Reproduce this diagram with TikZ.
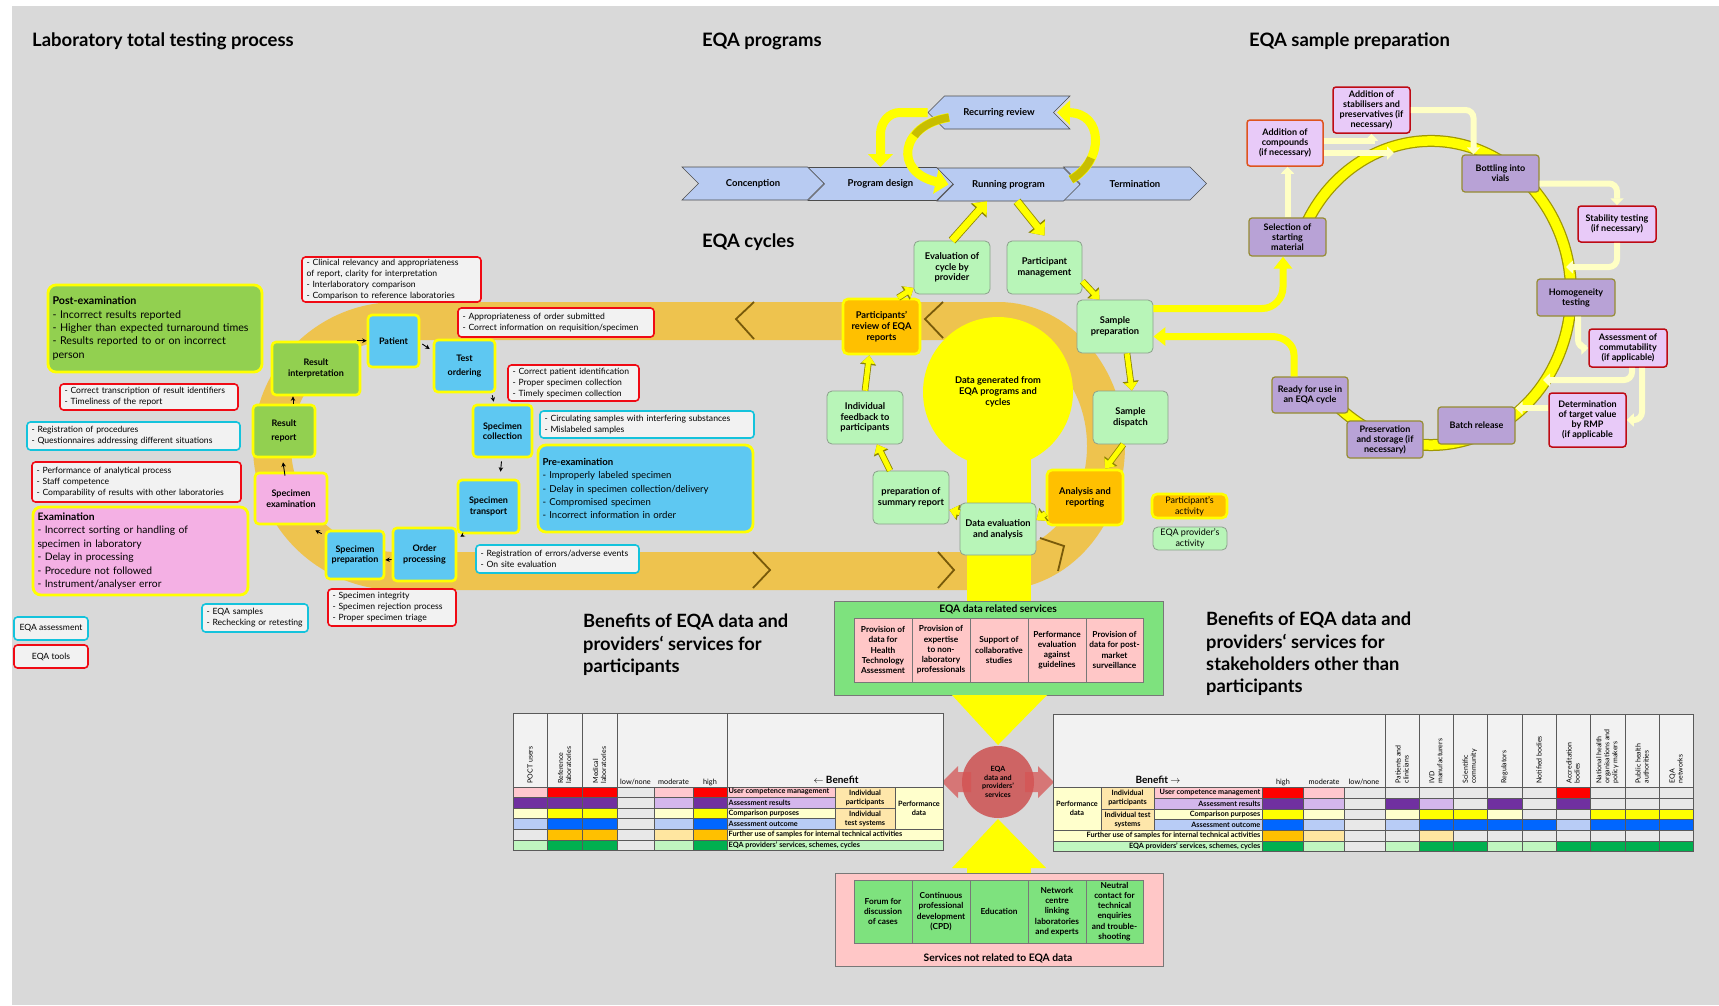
\documentclass[tikz,border=0pt]{standalone}
\usepackage{fontspec}
\setmainfont{Lato}
\usetikzlibrary{arrows.meta,shapes.symbols,shapes.geometric}
\newcommand\fsz[2]{\fontsize{#1}{#2}\selectfont}
\newcommand\Bx[7]{%
  \pgfmathsetmacro\bxw{#5-#3}\pgfmathsetmacro\bxh{#6-#4}%
  \pgfmathsetmacro\bxcx{(#3+#5)/2}\pgfmathsetmacro\bxcy{(#4+#6)/2}%
  \node[#1, minimum width=\bxw pt, minimum height=\bxh pt, inner sep=1pt, align=center] (#2) at (\bxcx,\bxcy) {#7};}
\newcommand\Lx[7]{%
  \pgfmathsetmacro\bxw{#5-#3}\pgfmathsetmacro\bxh{#6-#4}\pgfmathsetmacro\bxtw{#5-#3-9}%
  \pgfmathsetmacro\bxcx{(#3+#5)/2}\pgfmathsetmacro\bxcy{(#4+#6)/2}%
  \node[#1, minimum width=\bxw pt, minimum height=\bxh pt, inner xsep=4.5pt, inner ysep=0pt, text width=\bxtw pt, align=left] (#2) at (\bxcx,\bxcy) {#7};}
\definecolor{bggray}{RGB}{217,217,217}
\definecolor{boxlt}{RGB}{242,242,242}
\definecolor{redb}{RGB}{240,10,20}
\definecolor{cyanb}{RGB}{20,195,220}
\definecolor{labblue}{RGB}{94,200,242}
\definecolor{labgreen}{RGB}{146,208,80}
\definecolor{labpink}{RGB}{244,176,228}
\definecolor{ylw}{RGB}{255,255,0}
\definecolor{bandor}{RGB}{238,195,78}
\definecolor{chevc}{RGB}{120,90,10}
\definecolor{progblue}{RGB}{184,203,242}
\definecolor{cycgreen}{RGB}{184,245,184}
\definecolor{cycbord}{RGB}{140,160,140}
\definecolor{partor}{RGB}{255,192,0}
\definecolor{spL}{RGB}{232,202,248}
\definecolor{spM}{RGB}{184,162,214}
\definecolor{spGold}{RGB}{150,140,50}
\definecolor{spRed}{RGB}{190,10,20}
\definecolor{spOr}{RGB}{222,84,30}
\definecolor{paleY}{RGB}{255,255,196}
\definecolor{olv}{RGB}{200,190,0}
\definecolor{svG}{RGB}{126,226,126}
\definecolor{svP}{RGB}{255,199,199}
\definecolor{svBord}{RGB}{120,120,120}
\definecolor{rcirc}{RGB}{206,100,100}
\definecolor{tred}{RGB}{255,0,0}
\definecolor{tpinkL}{RGB}{255,199,206}
\definecolor{tpurple}{RGB}{112,48,160}
\definecolor{tpurpleL}{RGB}{212,182,236}
\definecolor{tyellow}{RGB}{255,255,0}
\definecolor{tyellowL}{RGB}{255,255,204}
\definecolor{tblue}{RGB}{0,102,255}
\definecolor{tblueL}{RGB}{184,204,246}
\definecolor{torange}{RGB}{255,192,0}
\definecolor{torangeL}{RGB}{255,230,160}
\definecolor{tgreen}{RGB}{0,176,80}
\definecolor{tgreenL}{RGB}{192,246,192}
\definecolor{tgray}{RGB}{232,232,232}
\definecolor{ttan}{RGB}{254,230,170}
\definecolor{hdrbg}{RGB}{242,242,242}
\definecolor{gridc}{RGB}{90,90,90}
\begin{document}
\begin{tikzpicture}[x=1pt,y=-1pt,
  labB/.style={draw=ylw, line width=2.6pt, fill=labblue, rounded corners=4pt, font=\bfseries\fsz{9}{10.5}},
  labG/.style={labB, fill=labgreen},
  labP/.style={labB, fill=labpink},
  redT/.style={draw=redb, line width=1.6pt, fill=boxlt, rounded corners=3.5pt, font=\fsz{8.6}{11}},
  cyT/.style={redT, draw=cyanb},
  bigT/.style={draw=ylw, line width=2.8pt, rounded corners=8pt, font=\fsz{10.7}{13.3}},
  cyc/.style={draw=cycbord, line width=0.8pt, fill=cycgreen, rounded corners=5pt, font=\bfseries\fsz{9.3}{10.7}},
  cycO/.style={cyc, draw=ylw, line width=2.6pt, fill=partor},
  spLb/.style={draw=spRed, line width=1.5pt, fill=spL, rounded corners=3pt, font=\bfseries\fsz{9}{10}},
  spMb/.style={spLb, draw=spGold, line width=1.2pt, fill=spM},
  chev/.style={signal, signal to=east, signal from=west, fill=progblue, draw=gray!60!black, line width=0.6pt, font=\bfseries\fsz{9.5}{11}, inner sep=0pt, minimum width=143pt, minimum height=33pt},
  svcell/.style={draw=svBord, line width=0.6pt, font=\bfseries\fsz{8.3}{10.2}},
  chv/.style={draw=chevc, line width=1.8pt},
  yar/.style={draw=ylw, line width=9pt, -{Triangle[width=24pt,length=13pt]}},
  yar2/.style={draw=ylw, line width=7pt, -{Triangle[width=18pt,length=11pt]}, preaction={draw=olv!70!black, line width=8.6pt, -{Triangle[width=20.5pt,length=12.5pt]}}},
  cyar/.style={draw=ylw, line width=5pt, -{Triangle[width=13pt,length=8pt]}, preaction={draw=olv!70!black, line width=6.6pt, -{Triangle[width=15.5pt,length=9.5pt]}}},
  lnk/.style={draw=ylw, line width=7pt, -{Triangle[width=18pt,length=12pt]}},
  side/.style={draw=paleY, line width=6pt, -{Triangle[width=13pt,length=7pt]}},
  labar/.style={-{Stealth[length=4.5pt,width=4.5pt]}, line width=0.9pt, draw=black},
  ttl/.style={font=\bfseries\fsz{18.5}{22}, inner sep=0pt, anchor=west},
  tb/.style={font=\bfseries\fsz{7.3}{8.8}, inner sep=0.5pt},
  th/.style={font=\fsz{7}{8}, inner sep=0.5pt, align=left},
  grid/.style={draw=gridc, line width=0.5pt}
]
\useasboundingbox (0,0) rectangle (1719,1005);
\fill[white] (0,0) rectangle (1719,1005);
\fill[bggray] (12,6) rectangle (1719,1005);

% ---------- orange band ----------
\draw[line width=38pt, draw=bandor] (397,321) -- (998,321) arc[start angle=90,end angle=-90,x radius=108pt,y radius=125pt] -- (397,571) arc[start angle=270,end angle=90,radius=125pt] -- cycle;
\draw[chv] (754,302) -- (736,319) -- (754,339);
\draw[chv] (943,302) -- (925,319) -- (943,338);
\draw[chv] (753,552) -- (770,570) -- (753,588);
\draw[chv] (938,552) -- (954,570) -- (938,588);
\draw[chv] (1040,538) -- (1064,546) -- (1058,571);

% ---------- titles ----------
\node[ttl] (t1) at (32,41) {Laboratory total testing process};
\node[ttl] (t2) at (702,41) {EQA programs};
\node[ttl] (t3) at (1249,41) {EQA sample preparation};
\node[ttl] (t4) at (702,242) {EQA cycles};
\node[anchor=north west, align=left, inner sep=0pt, font=\bfseries\fsz{18.3}{22.3}] (t5) at (583,614) {Benefits of EQA data and\\providers‘ services for\\participants};
\node[anchor=north west, align=left, inner sep=0pt, font=\bfseries\fsz{18.3}{22.3}] (t6) at (1206,612) {Benefits of EQA data and\\providers‘ services for\\stakeholders other than\\participants};

% ---------- laboratory total testing process ----------
\Lx{redT}{r1}{302}{257}{481}{302}{- Clinical relevancy and appropriateness\\of report, clarity for interpretation\\- Interlaboratory comparison\\- Comparison to reference laboratories}
\Lx{redT}{r2}{458}{308}{654}{337}{- Appropriateness of order submitted\\- Correct information on requisition/specimen}
\Lx{redT}{r3}{508}{365}{639}{401}{- Correct patient identification\\- Proper specimen collection\\- Timely specimen collection}
\Lx{cyT}{c1}{540}{411}{754}{438}{- Circulating samples with interfering substances\\- Mislabeled samples}
\Lx{bigT, fill=labblue, font=\fsz{9.6}{13.3}}{pre}{538}{445}{753}{532}{\textbf{Pre-examination}\\- Improperly labeled specimen\\- Delay in specimen collection/delivery\\- Compromised specimen\\- Incorrect information in order}
\Lx{cyT}{c2}{476}{545}{639}{573}{- Registration of errors/adverse events\\- On site evaluation}
\Lx{redT}{r4}{328}{589}{456}{626}{- Specimen integrity\\- Specimen rejection process\\- Proper specimen triage}
\Lx{cyT}{c3}{202}{604}{308}{632}{- EQA samples\\- Rechecking or retesting}
\Lx{bigT, fill=labgreen}{post}{48}{285}{262}{372}{\textbf{Post-examination}\\- Incorrect results reported\\- Higher than expected turnaround times\\- Results reported to or on incorrect\\person}
\Lx{redT}{r5}{60}{384}{238}{410}{- Correct transcription of result identifiers\\- Timeliness of the report}
\Lx{cyT}{c4}{27}{422}{240}{450}{- Registration of procedures\\- Questionnaires addressing different situations}
\Lx{redT}{r6}{32}{462}{241}{502}{- Performance of analytical process\\- Staff competence\\- Comparability of results with other laboratories}
\Lx{bigT, fill=labpink, font=\fsz{10.3}{13.4}}{exam}{33}{507}{248}{595}{\textbf{Examination}\\- Incorrect sorting or handling of\\specimen in laboratory\\- Delay in processing\\- Procedure not followed\\- Instrument/analyser error}
\Bx{cyT}{lgA}{14}{617}{88}{640}{EQA assessment}
\Bx{redT}{lgB}{14}{645}{88}{668}{EQA tools}

\Bx{labG}{ri}{272}{342}{360}{395}{Result\\interpretation}
\Bx{labG}{rrep}{253}{405}{315}{457}{Result\\[4pt]report}
\Bx{labB}{pat}{368}{315}{419}{367}{Patient}
\Bx{labB}{tord}{434}{340}{495}{392}{Test\\[3pt]ordering}
\Bx{labB}{sc}{473}{405}{532}{457}{Specimen\\collection}
\Bx{labB}{st}{458}{480}{519}{533}{Specimen\\transport}
\Bx{labB}{op}{393}{528}{456}{581}{Order\\processing}
\Bx{labB}{spp}{326}{531}{384}{579}{Specimen\\preparation}
\Bx{labP}{se}{255}{473}{327}{524}{Specimen\\examination}

\draw[labar] ([xshift=-4pt]ri.north east) -- (ri.north east -| pat.west);
\draw[labar] ([xshift=2pt,yshift=-3pt]pat.east) -- ([xshift=-3pt,yshift=17pt]tord.west);
\draw[labar] ([xshift=-4pt,yshift=-2pt]tord.south east) -- ([xshift=22pt,yshift=2pt]sc.north west);
\draw[labar] ([xshift=-1pt,yshift=-3pt]sc.south) -- ([xshift=12pt,yshift=7pt]st.north);
\draw[labar] ([xshift=6pt,yshift=-1pt]st.south west) -- ([xshift=3pt,yshift=-10pt]op.north east);
\draw[labar] ([yshift=-5pt]op.west) -- ([yshift=-5pt]spp.east);
\draw[labar] ([xshift=-3pt,yshift=-4pt]spp.north west) -- ([xshift=-13pt,yshift=-5pt]se.south east);
\draw[labar] ([xshift=-6pt,yshift=-4pt]se.north) -- ([xshift=-1pt,yshift=-4pt]rrep.south);
\draw[labar] ([xshift=9pt]rrep.north) -- ([xshift=-23pt]ri.south);

% ---------- EQA programs ----------
\node[chev] (tm) at (1135,183.5) {Termination};
\node[chev] (rp) at (1008.5,184.5) {Running program};
\node[chev, minimum width=145pt] (pd) at (880.5,184) {Program design};
\node[chev, minimum width=142pt] (conc) at (753,183.5) {Concenption};
\node[chev, signal to=west, signal from=east, minimum width=142pt] (rr) at (999,112.5) {Recurring review};

\draw[yar] (rr.west) -- (900,112.5) to[out=180,in=90] (880.5,134) -- (pd.north);
\draw[yar] ([xshift=-50pt,yshift=-5pt]rr.center) .. controls (900,125) and (893,172) .. ([xshift=-60pt]rp.center);
\draw[draw=olv, line width=8pt, dash pattern=on 40pt off 400pt] ([xshift=-50pt,yshift=-5pt]rr.center) .. controls (900,125) and (893,172) .. ([xshift=-60pt]rp.center);
\draw[yar] ([xshift=-64pt,yshift=4pt]tm.center) .. controls (1105,160) and (1103,113) .. ([xshift=58pt]rr.center);
\draw[draw=olv, line width=8pt, dash pattern=on 30pt off 400pt] ([xshift=-64pt,yshift=4pt]tm.center) .. controls (1105,160) and (1103,113) .. ([xshift=58pt]rr.center);

% ---------- EQA cycles ----------
\fill[ylw] (967,440) rectangle (1031,601);
\node[circle, fill=ylw, minimum size=150pt, inner sep=0pt, align=center, font=\bfseries\fsz{9.3}{11.3}] (dg) at (998,392) {Data generated from\\EQA programs and\\cycles};

\Bx{cyc}{ev}{914}{241}{990}{294}{Evaluation of\\cycle by\\provider}
\Bx{cyc}{pm}{1007}{241}{1082}{294}{Participant\\management}
\Bx{cyc}{sp}{1077}{300}{1153}{353}{Sample\\preparation}
\Bx{cyc}{sd}{1093}{391}{1168}{444}{Sample\\dispatch}
\Bx{cycO}{ar}{1047}{470}{1123}{525}{Analysis and\\reporting}
\Bx{cyc}{de}{960}{503}{1036}{555}{Data evaluation\\and analysis}
\Bx{cyc}{ps}{873}{471}{949}{524}{preparation of\\summary report}
\Bx{cyc}{fb}{827}{391}{903}{444}{Individual\\feedback to\\participants}
\Bx{cycO}{prr}{843}{299}{920}{354}{Participants'\\review of EQA\\reports}

\draw[cyar] (pm.-20) -- (sp.120);
\draw[cyar] (sp.-66) -- (sd.87);
\draw[cyar] (sd.-105) -- (ar.55);
\draw[cyar] (ar.202) -- (de.13);
\draw[cyar] (de.157) -- (ps.-18);
\draw[cyar] (ps.128) -- (fb.-66);
\draw[cyar] (fb.90) -- (prr.-113);
\draw[cyar] (prr.60) -- (ev.208);
\draw[yar2] (ev.north) -- ([xshift=-21.5pt]rp.south);
\draw[yar2] ([xshift=8.5pt]rp.south) -- ([yshift=5pt]pm.north);

\Bx{cycO, font=\fsz{9}{11}}{lg1}{1152}{494}{1227}{518}{Participant's\\activity}
\Bx{cyc, font=\fsz{9}{11}}{lg2}{1153}{527}{1227}{550}{EQA provider's\\activity}

% ---------- EQA sample preparation ----------
\draw[line width=12pt, draw=olv!80!black] (1300.3,238.5) arc[start angle=159,end angle=-140,x radius=140pt,y radius=152pt];
\draw[line width=9.5pt, draw=ylw] (1300.3,238.5) arc[start angle=159,end angle=-140,x radius=140pt,y radius=152pt];

\Bx{spLb, draw=spOr}{comp}{1247}{120}{1323}{166}{Addition of\\compounds\\(if necessary)}
\Bx{spLb}{stab}{1333}{87}{1410}{133}{Addition of\\stabilisers and\\preservatives (if\\necessary)}
\Bx{spMb}{bot}{1462}{155}{1539}{192}{Bottling into\\vials}
\Bx{spLb}{stt}{1578}{206}{1656}{242}{Stability testing\\(if necessary)}
\Bx{spMb}{hom}{1537}{279}{1615}{316}{Homogeneity\\testing}
\Bx{spLb}{comm}{1589}{329}{1667}{367}{Assessment of\\commutability\\(if applicable)}
\Bx{spLb}{det}{1549}{393}{1626}{447}{Determination\\of target value\\by RMP\\(if applicable}
\Bx{spMb}{bat}{1438}{407}{1515}{444}{Batch release}
\Bx{spMb}{pres}{1347}{421}{1423}{458}{Preservation\\and storage (if\\necessary)}
\Bx{spMb}{rdy}{1272}{377}{1348}{413}{Ready for use in\\an EQA cycle}
\Bx{spMb}{sel}{1249}{218}{1326}{256}{Selection of\\starting\\material}

\coordinate (ringA) at (1394,153);
\coordinate (ringB) at (1566,267);
\coordinate (ringC) at (1543,380);
\draw[side] (sel.north) -- (sel.north |- comp.south);
\draw[side] ([yshift=2pt]comp.east) -| (stab.south);
\draw[side] ([yshift=-10pt]comp.east) -- (ringA);
\draw[side, rounded corners=8pt] (stab.east) -| ([xshift=-27pt]bot.north);
\draw[side, rounded corners=8pt] ([yshift=-10pt]bot.east) -| (stt.north);
\draw[side, rounded corners=8pt] (stt.south) |- (ringB);
\draw[side, rounded corners=8pt] ([xshift=2pt]hom.south) |- (comm.west);
\draw[side, rounded corners=8pt] ([xshift=4pt]comm.south) |- (ringC);
\draw[side, rounded corners=8pt] ([xshift=14pt]comm.south) |- (det.east);
\draw[side] ([yshift=12pt]det.west) -- ([yshift=17.5pt]bat.east);

\draw[lnk] ([yshift=18pt]sp.east) -- (1262,308.5) to[out=0,in=-90] (1283,287) -- ([xshift=-4.5pt]sel.south);
\draw[lnk] ([xshift=-16pt]rdy.north) -- (1294,355) to[out=90,in=0] (1272,336.5) -- ([yshift=-10pt]sp.east);

% ---------- services ----------
\Bx{draw=svBord, line width=0.8pt, fill=svG}{svA}{834}{601}{1163}{695}{}
\node[font=\bfseries\fsz{10.3}{12}, inner sep=0pt] (svAt) at (998,609) {EQA data related services};
\Bx{svcell, fill=svP}{sa1}{854}{618}{912}{682}{Provision of\\data for\\Health\\Technology\\Assessment}
\Bx{svcell, fill=svP}{sa2}{912}{618}{970}{682}{Provision of\\expertise\\to non-\\laboratory\\professionals}
\Bx{svcell, fill=svP}{sa3}{970}{618}{1028}{682}{Support of\\collaborative\\studies}
\Bx{svcell, fill=svP}{sa4}{1028}{618}{1086}{682}{Performance\\evaluation\\against\\guidelines}
\Bx{svcell, fill=svP}{sa5}{1086}{618}{1143}{682}{Provision of\\data for post-\\market\\surveillance}
\fill[ylw] (952,695) -- (1047,695) -- (998,745) -- cycle;

\Bx{draw=svBord, line width=0.8pt, fill=svP}{svB}{835}{873}{1163}{966}{}
\node[font=\bfseries\fsz{10.3}{12}, inner sep=0pt] (svBt) at (998,958) {Services not related to EQA data};
\Bx{svcell, fill=svG}{sb1}{854}{880}{912}{943}{Forum for\\discussion\\of cases}
\Bx{svcell, fill=svG}{sb2}{912}{880}{970}{943}{Continuous\\professional\\development\\(CPD)}
\Bx{svcell, fill=svG}{sb3}{970}{880}{1028}{943}{Education}
\Bx{svcell, fill=svG}{sb4}{1028}{880}{1086}{943}{Network\\centre\\linking\\laboratories\\and experts}
\Bx{svcell, fill=svG}{sb5}{1086}{880}{1143}{943}{Neutral\\contact for\\technical\\enquiries\\and trouble-\\shooting}
\fill[ylw] (952,868) -- (1046,868) -- (998,819) -- cycle;
\fill[ylw] (967,866) rectangle (1031,873);

\node[circle, fill=rcirc, minimum size=72pt, inner sep=0pt, align=center, font=\bfseries\fsz{7.2}{8.6}] (ec) at (998,782) {EQA\\data and\\providers'\\services};
\fill[rcirc!85!red, opacity=0.75] (971,772) -- (958,772) -- (958,766) -- (942,782) -- (958,798) -- (958,792) -- (971,792) -- cycle;
\fill[rcirc!85!red, opacity=0.75] (1025,772) -- (1038,772) -- (1038,766) -- (1054,782) -- (1038,798) -- (1038,792) -- (1025,792) -- cycle;

% ---------- left table ----------
\fill[hdrbg] (513,713) rectangle (943,787);
\foreach \ya/\yb/\cl in {
 787/797/{tpinkL,tred,tred,tgray,tpinkL,tred},
 797/808/{tpurple,tpurple,tpurple,tgray,tpurpleL,tpurple},
 808/818/{tyellowL,tyellow,tyellow,tgray,tyellowL,tyellow},
 818/829/{tblueL,tblue,tblue,tgray,tblueL,tblue},
 829/840/{tgray,torange,torange,tgray,torangeL,torange},
 840/850/{tgreenL,tgreen,tgreen,tgray,tgreenL,tgreen}}
{\foreach \c [count=\i] in \cl {
   \pgfmathsetmacro\xa{{513,547,582,617,654,693,727}[\i-1]}
   \pgfmathsetmacro\xb{{513,547,582,617,654,693,727}[\i]}
   \fill[\c] (\xa,\ya) rectangle (\xb,\yb);}}
\fill[tpinkL] (727,787) rectangle (835,797);
\fill[tpurpleL] (727,797) rectangle (835,808);
\fill[tyellowL] (727,808) rectangle (835,818);
\fill[tblueL] (727,818) rectangle (835,829);
\fill[tyellowL] (727,829) rectangle (943,840);
\fill[tgreenL] (727,840) rectangle (943,850);
\fill[ttan] (835,787) rectangle (895,829);
\fill[tyellowL] (895,787) rectangle (943,829);
\foreach \y in {797,818} \draw[grid] (513,\y) -- (835,\y);
\draw[grid] (513,808) -- (895,808);
\foreach \y in {787,829,840} \draw[grid] (513,\y) -- (943,\y);
\draw[grid] (513,713) rectangle (943,850);
\foreach \x in {547,582,617,727} \draw[grid] (\x,713) -- (\x,787);
\foreach \x in {547,582,617,654,693,727} \draw[grid] (\x,787) -- (\x,850);
\foreach \x in {835,895} \draw[grid] (\x,787) -- (\x,829);
\node[th, rotate=90, anchor=west] (lh1) at (530,784) {POCT users};
\node[th, rotate=90, anchor=west] (lh2) at (564.5,784) {Reference\\laboratories};
\node[th, rotate=90, anchor=west] (lh3) at (599.5,784) {Medical\\laboratories};
\node[th, font=\fsz{7.3}{8}] (lh4) at (635.5,782) {low/none};
\node[th, font=\fsz{7.3}{8}] (lh5) at (673.5,782) {moderate};
\node[th, font=\fsz{7.3}{8}] (lh6) at (710,782) {high};
\node[font=\bfseries\fsz{10}{11}, inner sep=0pt] (lh7) at (836,780) {\(\leftarrow\) Benefit};
\node[tb, anchor=west] (lt1) at (728,792) {User competence management};
\node[tb, anchor=west] (lt2) at (728,802.5) {Assessment results};
\node[tb, anchor=west] (lt3) at (728,813) {Comparison purposes};
\node[tb, anchor=west] (lt4) at (728,823.5) {Assessment outcome};
\node[tb, anchor=west] (lt5) at (728,834.5) {Further use of samples for internal technical activities};
\node[tb, anchor=west] (lt6) at (728,845) {EQA providers' services, schemes, cycles};
\node[tb, align=center] (lt7) at (865,797.5) {Individual\\participants};
\node[tb, align=center] (lt8) at (865,818.5) {Individual\\test systems};
\node[tb, align=center] (lt9) at (919,808) {Performance\\data};

% ---------- right table ----------
\fill[hdrbg] (1053,714) rectangle (1693,787);
\foreach \ya/\yb/\cl in {
 787/798/{tred,tpinkL,tgray,tgray,tgray,tgray,tgray,tgray,tred,tgray,tgray,tgray},
 798/809/{tpurple,tpurpleL,tgray,tpurple,tpurpleL,tgray,tpurple,tgray,tpurple,tgray,tgray,tgray},
 809/819/{tyellow,tyellowL,tgray,tyellowL,tyellow,tyellow,tyellowL,tgray,tgray,tyellow,tyellow,tyellow},
 819/830/{tblue,tblueL,tgray,tblueL,tblue,tblue,tblue,tblue,tblueL,tblue,tblue,tblue},
 830/841/{torange,torangeL,tgray,tgray,torangeL,tgray,tgray,tgray,tgray,tgray,tgray,tgray},
 841/851/{tgreen,tgreenL,tgray,tgreenL,tgreen,tgreen,tgreenL,tgreenL,tgreen,tgreen,tgreen,tgreen}}
{\foreach \c [count=\i] in \cl {
   \pgfmathsetmacro\xa{{1262,1303,1344,1385,1419,1453,1487,1522,1556,1590,1625,1659,1693}[\i-1]}
   \pgfmathsetmacro\xb{{1262,1303,1344,1385,1419,1453,1487,1522,1556,1590,1625,1659,1693}[\i]}
   \fill[\c] (\xa,\ya) rectangle (\xb,\yb);}}
\fill[tyellowL] (1053,787) rectangle (1101,830);
\fill[ttan] (1101,787) rectangle (1154,830);
\fill[tpinkL] (1154,787) rectangle (1262,798);
\fill[tpurpleL] (1154,798) rectangle (1262,809);
\fill[tyellowL] (1154,809) rectangle (1262,819);
\fill[tblueL] (1154,819) rectangle (1262,830);
\fill[tyellowL] (1053,830) rectangle (1262,841);
\fill[tgreenL] (1053,841) rectangle (1262,851);
\foreach \y in {798,819} \draw[grid] (1154,\y) -- (1693,\y);
\draw[grid] (1101,809) -- (1693,809);
\foreach \y in {787,830,841} \draw[grid] (1053,\y) -- (1693,\y);
\draw[grid] (1053,714) rectangle (1693,851);
\foreach \x in {1385,1419,1453,1487,1522,1556,1590,1625,1659} \draw[grid] (\x,714) -- (\x,787);
\foreach \x in {1262,1303,1344,1385,1419,1453,1487,1522,1556,1590,1625,1659} \draw[grid] (\x,787) -- (\x,851);
\foreach \x in {1101,1154} \draw[grid] (\x,787) -- (\x,830);
\node[font=\bfseries\fsz{10}{11}, inner sep=0pt] (rh0) at (1158,780) {Benefit \(\rightarrow\)};
\node[th, font=\fsz{7.3}{8}] (rh1) at (1283,782) {high};
\node[th, font=\fsz{7.3}{8}] (rh2) at (1324,782) {moderate};
\node[th, font=\fsz{7.3}{8}] (rh3) at (1364,782) {low/none};
\foreach \x/\t [count=\k] in {1402/{Patients and\\clinicians},1436/{IVD\\manufacturers},1470/{Scientific\\community},1504.5/{Regulators},1539/{Notified bodies},1573/{Accreditation\\bodies},1607.5/{National health\\organisations and\\policy makers},1642/{Public health\\authorities},1676/{EQA\\networks}}
  \node[th, rotate=90, anchor=west] (sh\k) at (\x,784) {\t};
\node[tb, align=center] (rt1) at (1077,808.5) {Performance\\data};
\node[tb, align=center] (rt2) at (1127.5,798) {Individual\\participants};
\node[tb, align=center] (rt3) at (1127.5,819.5) {Individual test\\systems};
\node[tb, anchor=east] (rt4) at (1261,792.5) {User competence management};
\node[tb, anchor=east] (rt5) at (1261,803.5) {Assessment results};
\node[tb, anchor=east] (rt6) at (1261,814) {Comparison purposes};
\node[tb, anchor=east] (rt7) at (1261,824.5) {Assessment outcome};
\node[tb, anchor=east] (rt8) at (1261,835.5) {Further use of samples for internal technical activities};
\node[tb, anchor=east] (rt9) at (1261,846) {EQA providers' services, schemes, cycles};
\end{tikzpicture}
\end{document}
